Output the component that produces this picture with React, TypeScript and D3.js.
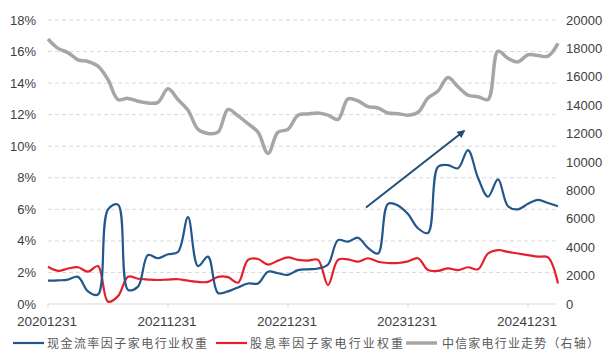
import React from "react";
import * as d3 from "d3";

const categories = [
  "20201231","20210131","20210228","20210331","20210430","20210531","20210630","20210731","20210831","20210930","20211031","20211130",
  "20211231","20220131","20220228","20220331","20220430","20220531","20220630","20220731","20220831","20220930","20221031","20221130",
  "20221231","20230131","20230228","20230331","20230430","20230531","20230630","20230731","20230831","20230930","20231031","20231130",
  "20231231","20240131","20240229","20240331","20240430","20240531","20240630","20240731","20240831","20240930","20241031","20241130",
  "20241231","20250131","20250228","20250331",
];

const cashFlowWeight = [
  1.48, 1.5, 1.55, 1.72, 0.8, 0.6, 6.0, 6.3, 0.9, 1.1, 3.1, 2.9,
  3.15, 3.3, 5.5, 2.4, 3.0, 0.7, 0.8, 1.05, 1.3, 1.3, 2.05, 1.95,
  1.85, 2.15, 2.2, 2.25, 2.5, 4.05, 3.95, 4.2, 3.55, 3.2, 6.35, 6.25,
  5.7, 4.8, 4.5, 8.7, 8.8, 8.6, 9.75, 8.0, 6.8, 7.9, 6.2, 6.0,
  6.35, 6.6, 6.4, 6.2,
];

const dividendWeight = [
  2.36, 2.1, 2.25, 2.33, 2.05, 2.4, 0.15, 0.5, 1.73, 1.6, 1.55, 1.52,
  1.55, 1.57, 1.48, 1.4, 1.4, 1.72, 1.7, 1.35, 2.8, 2.85, 2.5, 2.75,
  2.95, 2.8, 2.75, 2.8, 1.2, 2.8, 2.83, 2.68, 2.9, 2.68, 2.6, 2.6,
  2.7, 2.9, 2.15, 2.1, 2.26, 2.15, 2.33, 2.2, 3.2, 3.42, 3.3, 3.2,
  3.1, 3.0, 2.95, 1.3,
];

const industryIndex = [
  18660, 18000, 17700, 17200, 17080, 16750, 15800, 14400, 14480, 14280, 14150, 14200,
  15150, 14400, 13650, 12300, 12000, 12100, 13700, 13250, 12700, 12100, 10600, 12100,
  12300, 13300, 13380, 13450, 13300, 13000, 14450, 14300, 13900, 13800, 13450, 13400,
  13300, 13500, 14500, 15000, 15950, 15300, 14700, 14600, 14400, 17800, 17300, 17050,
  17550, 17500, 17450, 18350,
];

const leftTicks = [0, 2, 4, 6, 8, 10, 12, 14, 16, 18];
const rightTicks = [0, 2000, 4000, 6000, 8000, 10000, 12000, 14000, 16000, 18000, 20000];
const xTickLabels = ["20201231", "20211231", "20221231", "20231231", "20241231"];

const legendItems = [
  { label: "现金流率因子家电行业权重", color: "#23578C", lx: 13, tx: 47, tw: 160 },
  { label: "股息率因子家电行业权重", color: "#E3202B", lx: 216, tx: 250, tw: 153 },
  { label: "中信家电行业走势（右轴）", color: "#A6A6A6", lx: 406, tx: 442, tw: 157 },
];

export default function App() {
  const W = 612, H = 357;
  const left = 48, right = 556, top = 20, bottom = 304;
  const x = d3.scaleLinear().domain([0, categories.length - 1]).range([left, right + 2]);
  const yL = d3.scaleLinear().domain([0, 18]).range([bottom, top]);
  const yR = d3.scaleLinear().domain([0, 20000]).range([bottom, top]);
  const curve = d3.curveCatmullRom.alpha(0.5);
  const lineL = d3.line<number>().x((_, i) => x(i)).y((d) => yL(d)).curve(curve);
  const lineR = d3.line<number>().x((_, i) => x(i)).y((d) => yR(d)).curve(curve);
  const font = "'Liberation Sans', Arial, sans-serif";
  const xEnd = 556;

  const arrowStart = { x: 366, y: 207.5 };
  const arrowEnd = { x: 464, y: 131 };

  return (
    <svg width={W} height={H} style={{ position: "absolute", left: 0, top: 0, background: "#fff" }}>
      <defs>
        <marker id="ah" viewBox="0 0 10 10" refX="8" refY="5" markerWidth="4" markerHeight="4" orient="auto">
          <path d="M0,0 L10,5 L0,10 z" fill="#1F4E79" />
        </marker>
      </defs>
      {leftTicks.filter((t) => t > 0).map((t) => (
        <line key={t} x1={left} x2={xEnd} y1={yL(t)} y2={yL(t)} stroke="#D9D9D9" strokeWidth={1} strokeDasharray="4,3" />
      ))}
      <line x1={left} x2={xEnd} y1={bottom} y2={bottom} stroke="#D9D9D9" strokeWidth={1} />
      {xTickLabels.map((lab) => {
        const i = categories.indexOf(lab);
        return <line key={lab} x1={x(i)} x2={x(i)} y1={bottom} y2={bottom + 4} stroke="#D9D9D9" />;
      })}
      {leftTicks.map((t) => (
        <text key={t} x={36} y={yL(t) + 4.5} textAnchor="end" fontSize={13} fontFamily={font} fill="#404040">
          {t}%
        </text>
      ))}
      {rightTicks.map((t) => (
        <text key={t} x={566} y={yR(t) + 4.5} textAnchor="start" fontSize={13} fontFamily={font} fill="#404040">
          {t}
        </text>
      ))}
      {xTickLabels.map((lab) => {
        const i = categories.indexOf(lab);
        return (
          <text key={lab} x={x(i) - 1} y={326} textAnchor="middle" fontSize={13.5} fontFamily={font} fill="#404040">
            {lab}
          </text>
        );
      })}
      <path d={lineR(industryIndex) || ""} fill="none" stroke="#A6A6A6" strokeWidth={3.5} strokeLinejoin="round" />
      <path d={lineL(dividendWeight) || ""} fill="none" stroke="#E3202B" strokeWidth={2.2} strokeLinejoin="round" />
      <path d={lineL(cashFlowWeight) || ""} fill="none" stroke="#23578C" strokeWidth={2.2} strokeLinejoin="round" />
      <line x1={arrowStart.x} y1={arrowStart.y} x2={arrowEnd.x} y2={arrowEnd.y} stroke="#1F4E79" strokeWidth={2} markerEnd="url(#ah)" />
      {legendItems.map((it) => (
        <g key={it.label}>
          <line x1={it.lx} x2={it.lx + 31} y1={343} y2={343} stroke={it.color} strokeWidth={it.color === "#A6A6A6" ? 3.5 : 2.2} />
          <text x={it.tx} y={348} fontSize={12} fontFamily="'Noto Sans CJK SC', sans-serif" fill="#595959" textLength={it.tw} lengthAdjust="spacing">
            {it.label}
          </text>
        </g>
      ))}
    </svg>
  );
}
